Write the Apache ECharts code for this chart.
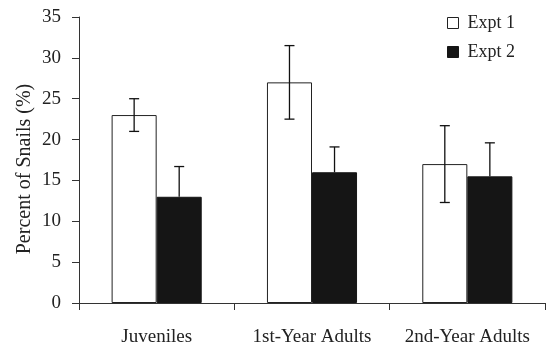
<!DOCTYPE html>
<html>
<head>
<meta charset="utf-8">
<script src="https://cdn.jsdelivr.net/npm/echarts@6/dist/echarts.min.js"></script>
<style>
  html, body { margin: 0; padding: 0; background: #fff; }
  #chart { width: 549px; height: 347px; }
</style>
</head>
<body>
<div id="chart"></div>
<script>
// Snail percentages by age class for two experiments, with error bars
const categories = ['Juveniles', '1st-Year Adults', '2nd-Year Adults'];
const expt1 = [23, 27, 17];
const expt2 = [13, 16, 15.5];
const expt1Err = [2, 4.5, 4.7];
const expt2Err = [3.7, 3.1, 4.1];
const yTicks = [0, 5, 10, 15, 20, 25, 30, 35];

const FONT = '"Liberation Serif", "Times New Roman", serif';
const BAR_RATIO = 0.29; // bar width as a share of the category band

// Error bar items: [category index, mean, half-width, side (-1 left bar, +1 right bar), lower whisker shown]
const errItems = [];
categories.forEach((c, i) => {
  errItems.push([i, expt1[i], expt1Err[i], -1, 1]);
  errItems.push([i, expt2[i], expt2Err[i], 1, 0]);
});

const chart = echarts.init(document.getElementById('chart'), null, { renderer: 'canvas' });

chart.setOption({
  animation: false,
  backgroundColor: '#fff',
  textStyle: { fontFamily: FONT, color: '#222' },
  grid: { left: 79, right: 4, top: 17, bottom: 42, containLabel: false },
  legend: {
    orient: 'vertical',
    left: 447,
    top: 14,
    padding: 0,
    itemWidth: 11,
    itemHeight: 11,
    itemGap: 11,
    icon: 'rect',
    textStyle: { fontFamily: FONT, fontSize: 18, color: '#222', padding: [0, 0, 0, 4] },
    data: [
      { name: 'Expt 1', itemStyle: { color: '#fff', borderColor: '#222', borderWidth: 1 } },
      { name: 'Expt 2', itemStyle: { color: '#151515', borderColor: '#151515', borderWidth: 1 } }
    ]
  },
  xAxis: {
    type: 'category',
    data: categories,
    boundaryGap: true,
    axisLine: { lineStyle: { color: '#333', width: 1 } },
    axisTick: { show: true, length: 7, lineStyle: { color: '#333' } },
    axisLabel: { interval: 0, fontFamily: FONT, fontSize: 19, color: '#222', margin: 25 }
  },
  yAxis: {
    type: 'value',
    min: 0,
    max: 35,
    interval: 5,
    name: 'Percent of Snails (%)',
    nameLocation: 'middle',
    nameGap: 44,
    nameMoveOverlap: false,
    nameRotate: 90,
    nameTextStyle: { fontFamily: FONT, fontSize: 20, color: '#222', padding: [0, 0, 0, -18] },
    axisLine: { show: true, lineStyle: { color: '#333', width: 1 } },
    axisTick: { show: true, length: 7, lineStyle: { color: '#333' } },
    axisLabel: {
      fontFamily: FONT, fontSize: 19, color: '#222', margin: 18,
      formatter: v => (yTicks.indexOf(v) >= 0 ? String(v) : '')
    },
    splitLine: { show: false }
  },
  series: [
    {
      name: 'Expt 1',
      type: 'bar',
      data: expt1,
      barWidth: (BAR_RATIO * 100) + '%',
      barGap: '0%',
      itemStyle: { color: '#fff', borderColor: '#222', borderWidth: 1 }
    },
    {
      name: 'Expt 2',
      type: 'bar',
      data: expt2,
      barWidth: (BAR_RATIO * 100) + '%',
      barGap: '0%',
      itemStyle: { color: '#151515', borderColor: '#151515', borderWidth: 1 }
    },
    {
      name: 'error',
      type: 'custom',
      z: 10,
      data: errItems,
      renderItem: function (params, api) {
        const idx = api.value(0);
        const mean = api.value(1);
        const err = api.value(2);
        const side = api.value(3);
        const showLow = api.value(4) > 0;
        const band = api.size([1, 0])[0];
        const dx = side * band * BAR_RATIO / 2;
        const hi = api.coord([idx, mean + err]);
        const mid = api.coord([idx, mean]);
        const lo = api.coord([idx, mean - err]);
        const x = hi[0] + dx;
        const cap = 5;
        const style = { stroke: '#111', lineWidth: 1.3 };
        const children = [
          { type: 'line', shape: { x1: x, y1: hi[1], x2: x, y2: showLow ? lo[1] : mid[1] }, style: style },
          { type: 'line', shape: { x1: x - cap, y1: hi[1], x2: x + cap, y2: hi[1] }, style: style }
        ];
        if (showLow) {
          children.push({ type: 'line', shape: { x1: x - cap, y1: lo[1], x2: x + cap, y2: lo[1] }, style: style });
        }
        return { type: 'group', children: children };
      }
    }
  ]
});
</script>
</body>
</html>
